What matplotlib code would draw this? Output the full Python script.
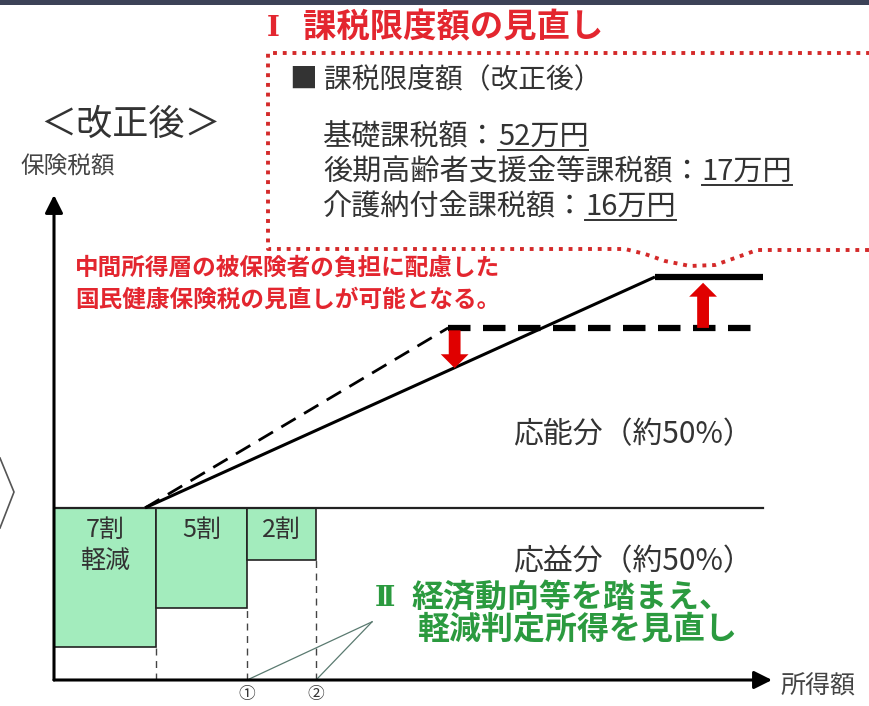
import matplotlib
matplotlib.use("Agg")
import matplotlib.pyplot as plt
from matplotlib.patches import Rectangle, FancyArrowPatch
from matplotlib.lines import Line2D
from matplotlib.transforms import IdentityTransform

plt.rcParams['font.family'] = ['Noto Sans CJK JP', 'DejaVu Sans']

# --- data (income on x, tax on y, both 0-100 scale) ---
box_left = [0.0, 14.2, 26.9]
thresholds = [14.2, 26.9, 36.5]          # upper income limit of each reduction band
box_bottom = [6.8, 14.8, 24.7]
reduction_labels = ["7割\n軽減", "5割", "2割"]
circled = {1: "①", 2: "②"}
benefit_level = 35.5                     # 応益分 / 応能分 boundary
new_x = [12.7, 83.7, 98.7]               # after revision (solid)
new_y = [35.5, 83.1, 83.1]
old_x = [12.7, 54.9, 97.4]               # before (dashed)
old_y = [35.5, 72.6, 72.6]
down_arrow_x, up_arrow_x = 55.8, 90.4
down_arrow_to = 64.3
up_arrow_to = 81.9

limits_head = "■ 課税限度額（改正後）"
limit_items = ["基礎課税額：", "後期高齢者支援金等課税額：", "介護納付金課税額："]
limit_values = ["52万円", "17万円", "16万円"]

RED = "#e3262f"
GREEN = "#2b9a3f"
DARK = "#333333"
MINT = "#a3ecbd"

fig = plt.figure(figsize=(8.7, 7.06), dpi=100)

# overlay axes in pixel coordinates for the decorations
ov = fig.add_axes([0, 0, 1, 1])
ov.set_xlim(0, 870)
ov.set_ylim(706, 0)
ov.axis("off")

# main diagram axes: origin at pixel (54, 680), x 0-100 -> 54..772, y 0-100 -> 680..195
ax = fig.add_axes([54 / 870, 26 / 706, 718 / 870, 485 / 706])
ax.set_xlim(0, 100)
ax.set_ylim(0, 100)
ax.axis("off")
ax.patch.set_alpha(0)

# top bar and left chevron
ov.add_patch(Rectangle((0, 0), 870, 5, color="#3c4257", lw=0))
ov.plot([0, 14, 0], [458, 492, 528], color="#555555", lw=1.2)

# red dotted frame with dip
frame_x = [880, 268, 268, 625, 645, 665, 690, 715, 735, 757, 880]
frame_y = [53, 53, 249, 249, 254, 261, 266, 265, 258, 250, 250]
ov.plot(frame_x, frame_y, color="#d42a2a", lw=2.8, linestyle=(0, (1, 1.5)),
        solid_capstyle="butt", dash_capstyle="butt")

# titles and texts
ov.text(267, 28, "Ⅰ", color=RED, fontsize=20, fontweight="bold", va="center",
        family=["DejaVu Serif"])
ov.text(303, 28, "課税限度額の見直し", color=RED, fontsize=24, fontweight="bold", va="center")
ov.text(290, 80, limits_head, color=DARK, fontsize=20, va="center")
ov.text(40, 125, "＜改正後＞", color=DARK, fontsize=26, va="center")
ov.text(20, 167, "保険税額", color="#444444", fontsize=17, va="center")
ov.text(780, 687, "所得額", color="#444444", fontsize=18, va="center")

ov.text(75, 268, "中間所得層の被保険者の負担に配慮した", color=RED, fontsize=17,
        fontweight="bold", va="center")
ov.text(75, 300, "国民健康保険税の見直しが可能となる。", color=RED, fontsize=17,
        fontweight="bold", va="center")

ov.text(513, 435, "応能分（約50%）", color=DARK, fontsize=21.5, va="center")
ov.text(513, 562, "応益分（約50%）", color=DARK, fontsize=21.5, va="center")

ov.text(375, 598, "Ⅱ", color=GREEN, fontsize=20, fontweight="bold", va="center",
        family=["DejaVu Serif"])
ov.text(412, 598, "経済動向等を踏まえ、", color=GREEN, fontsize=23, fontweight="bold", va="center")
ov.text(417, 630, "軽減判定所得を見直し", color=GREEN, fontsize=23, fontweight="bold", va="center")

# limit amounts with underline
fig.canvas.draw()
renderer = fig.canvas.get_renderer()
value_texts = []
for i, (item, val) in enumerate(zip(limit_items, limit_values)):
    y = 137 + i * 35
    t = ov.text(323, y, item, color=DARK, fontsize=21, va="center")
    bb = t.get_window_extent(renderer)
    xv = ov.transData.inverted().transform((bb.x1, 0))[0]
    tv = ov.text(xv, y, val, color=DARK, fontsize=21, va="center")
    value_texts.append(tv)
fig.canvas.draw()
for tv in value_texts:
    bb = tv.get_window_extent(renderer)
    fig.add_artist(Line2D([bb.x0, bb.x1], [bb.y0 + 2, bb.y0 + 2], color=DARK, lw=1.4,
                          transform=IdentityTransform()))

# reduction boxes
for left, right, bottom, lab in zip(box_left, thresholds, box_bottom, reduction_labels):
    ax.add_patch(Rectangle((left, bottom), right - left, benefit_level - bottom,
                           facecolor=MINT, edgecolor="#222222", lw=1.2, zorder=2))
    ax.text((left + right) / 2, benefit_level - 1.8, lab, ha="center", va="top",
            fontsize=18, color=DARK, linespacing=1.25, zorder=3)
    ax.plot([right, right], [0, bottom], color="#444444", lw=1.0,
            linestyle=(0, (5, 4)), zorder=1)

# boundary line between benefit / ability shares
ax.plot([0, new_x[-1]], [benefit_level, benefit_level], color="#222222", lw=1.6, zorder=2)

# tax curves
ax.plot(new_x[:2], new_y[:2], color="black", lw=2.2, zorder=4, solid_capstyle="butt")
ax.plot(new_x[1:], new_y[1:], color="black", lw=4.5, zorder=4, solid_capstyle="butt")
ax.plot(old_x[:2], old_y[:2], color="black", lw=2.0, linestyle=(0, (6, 3.5)), zorder=4)
ax.plot(old_x[1:], old_y[1:], color="black", lw=4.5, linestyle=(0, (3.6, 2.0)), zorder=4)

# red arrows
arrow_style = "simple,head_length=1.0,head_width=2.0,tail_width=0.85"
ax.add_patch(FancyArrowPatch((down_arrow_x, old_y[1] - 0.5), (down_arrow_x, down_arrow_to),
                             arrowstyle=arrow_style, mutation_scale=10, color="#e00000",
                             lw=0, zorder=5, shrinkA=0, shrinkB=0))
ax.add_patch(FancyArrowPatch((up_arrow_x, old_y[2]), (up_arrow_x, up_arrow_to),
                             arrowstyle=arrow_style, mutation_scale=10, color="#e00000",
                             lw=0, zorder=5, shrinkA=0, shrinkB=0))

# axes arrows
axis_style = "-|>,head_length=0.9,head_width=0.45"
ax.add_patch(FancyArrowPatch((0, 0), (100, 0), arrowstyle=axis_style, mutation_scale=12,
                             color="black", lw=2.2, shrinkA=0, shrinkB=0, zorder=6,
                             clip_on=False))
ax.add_patch(FancyArrowPatch((0, 0), (0, 100), arrowstyle=axis_style, mutation_scale=12,
                             color="black", lw=2.2, shrinkA=0, shrinkB=0, zorder=6,
                             clip_on=False))

# circled markers and connectors to the green note
note_anchor = (44.3, 12.0)
for idx, sym in circled.items():
    xt = thresholds[idx]
    ax.text(xt, -2.9, sym, ha="center", va="center", fontsize=12, color=DARK, clip_on=False)
    ax.plot([xt, note_anchor[0]], [0, note_anchor[1]], color="#5a7a70", lw=0.9, zorder=1)

fig.savefig("out.png", dpi=100)
